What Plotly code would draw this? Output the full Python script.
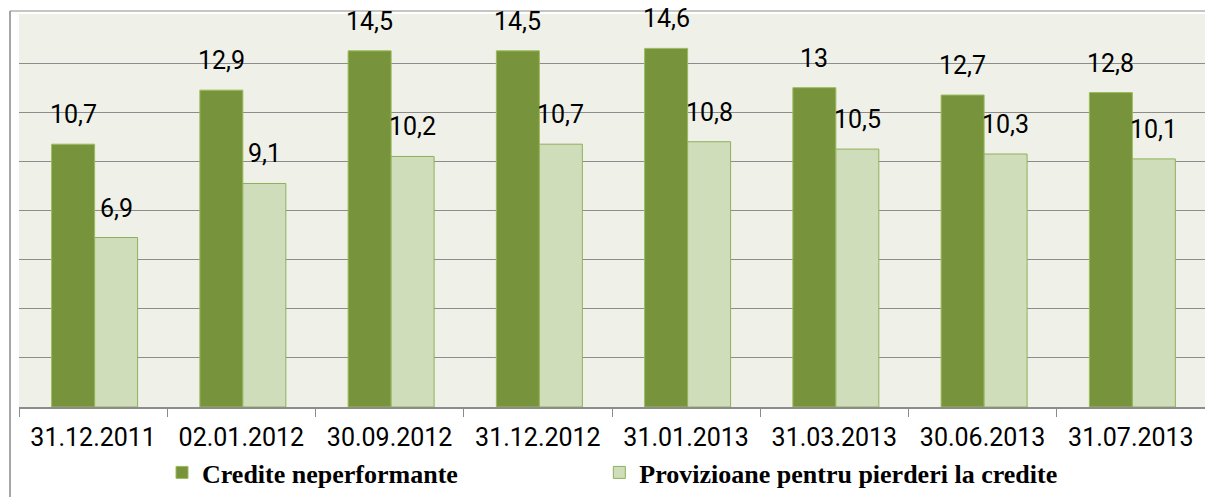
import plotly.graph_objects as go

categories = ["31.12.2011", "02.01.2012", "30.09.2012", "31.12.2012",
              "31.01.2013", "31.03.2013", "30.06.2013", "31.07.2013"]
credite = [10.7, 12.9, 14.5, 14.5, 14.6, 13.0, 12.7, 12.8]
provizioane = [6.9, 9.1, 10.2, 10.7, 10.8, 10.5, 10.3, 10.1]
name_credite = "Credite neperformante"
name_prov = "Provizioane pentru pierderi la credite"

def fmt(v):
    s = ("%.1f" % v).rstrip("0").rstrip(".")
    return s.replace(".", ",")

W = 0.29
L, T, B, R = 19, 14, 90, 0
PW, PH = 1205 - L - R, 497 - T - B

fig = go.Figure()
fig.add_trace(go.Bar(x=categories, y=credite, name="<b>" + name_credite + "</b>" + "&nbsp;" * 21,
                     width=W, offset=-W + 0.01,
                     marker=dict(color="#77933C", line=dict(color="#9BBB59", width=1))))
fig.add_trace(go.Bar(x=categories, y=provizioane, name="<b>" + name_prov + "</b>",
                     width=W, offset=0.01,
                     marker=dict(color="#D0DDBA", line=dict(color="#8FB05A", width=1))))

ann = []
for i, (a, b) in enumerate(zip(credite, provizioane)):
    ann.append(dict(x=i - W / 2 + 0.01, y=a, text=fmt(a), showarrow=False,
                    yanchor="bottom", yshift=13, font=dict(size=25, color="#000", family="Roboto")))
    ann.append(dict(x=i + W / 2 + 0.01, y=b, text=fmt(b), showarrow=False,
                    yanchor="bottom", yshift=13, font=dict(size=25, color="#000", family="Roboto")))

def px(xp):
    return (xp - L) / PW

def py(yp):
    return (T + PH - yp) / PH

shapes = [
    dict(type="line", xref="paper", yref="paper", x0=px(10), x1=px(10), y0=py(11), y1=py(500),
         line=dict(color="#A6A6A6", width=2), layer="above"),
    dict(type="line", xref="paper", yref="paper", x0=px(10), x1=px(1210), y0=py(11), y1=py(11),
         line=dict(color="#8C8C8C", width=1), layer="above"),
]

fig.update_layout(
    width=1205, height=497,
    margin=dict(l=L, r=R, t=T, b=B, pad=0, autoexpand=False),
    paper_bgcolor="white",
    plot_bgcolor="#EFF1E9",
    barmode="group",
    annotations=ann,
    shapes=shapes,
    showlegend=True,
    legend=dict(orientation="h", x=px(162), xanchor="left", y=py(449), yanchor="top",
                font=dict(family="Liberation Serif", size=26, color="#000"),
                bgcolor="rgba(0,0,0,0)", itemclick=False),
    xaxis=dict(type="category", range=[-0.5, len(categories) - 0.5], automargin=False,
               showline=True, linecolor="#8C8C8C", linewidth=2,
               ticks="outside", tickson="boundaries", ticklen=8, tickcolor="#8C8C8C",
               tickfont=dict(family="Roboto", size=25, color="#000"),
               ticklabelstandoff=7, showgrid=False),
    yaxis=dict(range=[0, 16], dtick=2, showticklabels=False, showgrid=True, automargin=False,
               gridcolor="#8C8C8C", gridwidth=1, zeroline=False, showline=False, ticks=""),
    font=dict(family="Roboto"),
)

fig.write_html("out.html", config={"displayModeBar": False},
               post_script="document.body.style.margin='0';document.body.style.overflow='hidden';")
